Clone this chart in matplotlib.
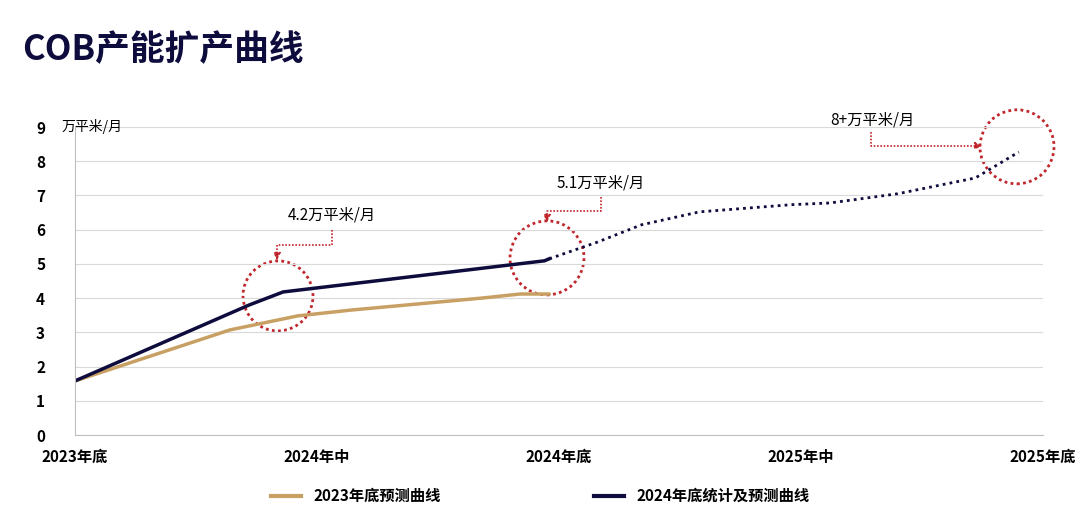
import matplotlib.pyplot as plt
from matplotlib.patches import Ellipse
from matplotlib.lines import Line2D

plt.rcParams['font.family'] = ['Noto Sans CJK SC', 'DejaVu Sans']

# data (x: 0=2023年底, 1=2024年底, 2=2025年底)
x_ticks = [0, 0.5, 1, 1.5, 2]
x_labels = ['2023年底', '2024年中', '2024年底', '2025年中', '2025年底']
gold_x = [0, 0.32, 0.46, 0.57, 0.84, 0.92, 0.98]
gold_y = [1.58, 3.07, 3.48, 3.65, 4.0, 4.12, 4.12]
solid_x = [0, 0.36, 0.43, 0.97, 0.98]
solid_y = [1.58, 3.8, 4.18, 5.09, 5.15]
dot_x = [0.98, 1.08, 1.17, 1.29, 1.48, 1.56, 1.70, 1.86, 1.95]
dot_y = [5.15, 5.64, 6.14, 6.52, 6.73, 6.78, 7.05, 7.51, 8.27]

gold = '#c9a063'
navy = '#0d0c3d'
red = '#c0262c'

W, H = 1080, 526
fig = plt.figure(figsize=(W / 100, H / 100), dpi=100)
ax = fig.add_axes([75 / W, 1 - 435 / H, 968 / W, 308 / H])
ax.set_xlim(0, 2)
ax.set_ylim(0, 9)

ax.plot(gold_x, gold_y, color=gold, lw=2.5, solid_capstyle='round')
ax.plot(solid_x, solid_y, color=navy, lw=2.5)
ax.plot(dot_x, dot_y, color=navy, lw=2, ls=(0, (1, 1.5)))

ax.set_yticks(range(10))
ax.set_xticks(x_ticks)
ax.set_xticklabels(x_labels, fontsize=11, fontweight='bold')
ax.tick_params(axis='y', labelsize=11, length=0, pad=28)
for t in ax.get_yticklabels():
    t.set_fontweight('bold')
    t.set_horizontalalignment('left')
ax.tick_params(axis='x', length=0, pad=10)
ax.grid(axis='y', color='#d9d9d9', lw=0.8)
for s in ['top', 'right']:
    ax.spines[s].set_visible(False)
ax.spines['left'].set_color('#bfbfbf')
ax.spines['bottom'].set_color('#bfbfbf')
ax.text(-0.027, 9, '万平米/月', fontsize=10, va='center', ha='left', transform=ax.transData)


def px(x, y):
    return (x - 75) / 484, (435 - y) / 34.2


for cx, cy, r in [(278, 296, 35), (547, 258, 37), (1017, 147, 37)]:
    ax.add_patch(Ellipse(px(cx, cy), 2 * r / 484, 2 * r / 34.2, fill=False,
                         ec=red, lw=2, ls=(0, (1, 1.2)), clip_on=False))

def callout(text, tx, ty, path, arrow_end):
    ax.text(*px(tx, ty), text, fontsize=11, ha='left', va='center')
    xs, ys = zip(*[px(a, b) for a, b in path])
    ax.plot(xs, ys, color=red, lw=1.2, ls=(0, (1, 1)), clip_on=False)
    ax.annotate('', xy=px(*arrow_end), xytext=px(*path[-1]),
                arrowprops=dict(arrowstyle='-|>', color=red, lw=1.2, linestyle=':'),
                annotation_clip=False)

callout('4.2万平米/月', 288, 215, [(332, 230), (332, 245), (277, 245), (277, 255)], (277, 263))
callout('5.1万平米/月', 557, 183, [(601, 197), (601, 211), (547, 211), (547, 217)], (547, 225))
callout('8+万平米/月', 830, 120, [(871, 132), (871, 146), (975, 146)], (985, 146))

fig.text(22 / W, 1 - 50 / H, 'COB产能扩产曲线', fontsize=25, fontweight='bold',
         color='#0d0c3d', va='center')

handles = [Line2D([], [], color=gold, lw=3), Line2D([], [], color=navy, lw=3)]
fig.legend(handles, ['2023年底预测曲线', '2024年底统计及预测曲线'], loc='center',
           bbox_to_anchor=(0.5, 1 - 496 / H), ncol=2, frameon=False,
           prop={'size': 11, 'weight': 'bold'}, handlelength=2, columnspacing=10)

fig.savefig('out.png', dpi=100)
